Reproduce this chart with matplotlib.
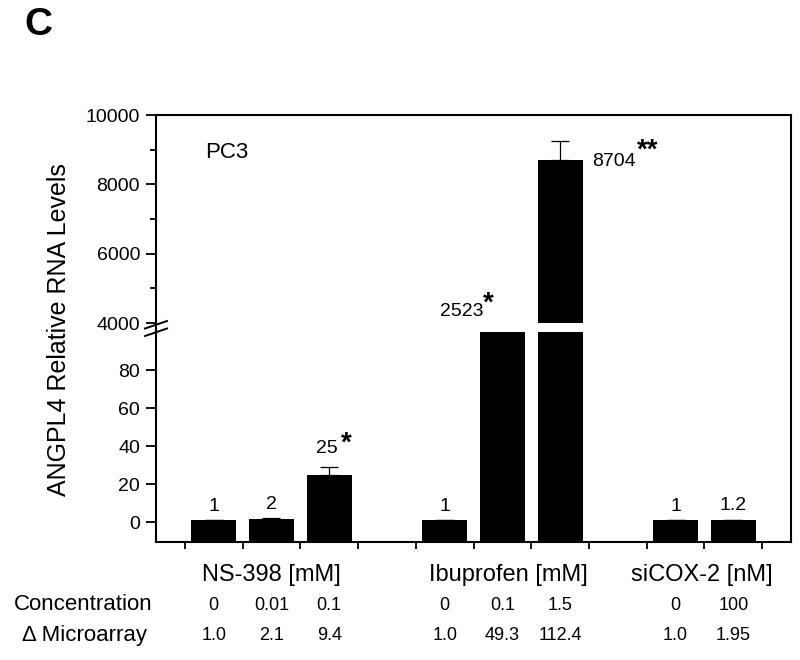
import matplotlib
matplotlib.use("Agg")
import matplotlib.pyplot as plt
from matplotlib.lines import Line2D
from matplotlib.transforms import blended_transform_factory

plt.rcParams['font.family'] = ['Liberation Sans', 'DejaVu Sans']

# data
groups = ["NS-398 [mM]", "Ibuprofen [mM]", "siCOX-2 [nM]"]
group_sizes = [3, 3, 2]
values = [1, 1.6, 24.7, 1, 2523, 8704, 1, 1.2]
errors = [0, 0.3, 4.4, 0, 0, 560, 0, 0]
value_labels = ["1", "2", "25", "1", "2523", "8704", "1", "1.2"]
stars = ["", "", "*", "", "*", "**", "", ""]
concentration = ["0", "0.01", "0.1", "0", "0.1", "1.5", "0", "100"]
microarray = ["1.0", "2.1", "9.4", "1.0", "49.3", "112.4", "1.0", "1.95"]

# bar positions: each group takes its slots, one empty slot between groups
pos = []
start = 0
for n in group_sizes:
    pos += [start + i + 0.5 for i in range(n)]
    start += n + 1

fig = plt.figure(figsize=(8, 6.6), dpi=100)

L, R = 156 / 800, 791 / 800
def fy(px):
    return 1 - px / 660

# frame
ax_bg = fig.add_axes([L, fy(542), R - L, fy(115) - fy(542)])
ax_bg.set_xticks([])
ax_bg.set_yticks([])
ax_bg.patch.set_visible(False)
for s in ax_bg.spines.values():
    s.set_linewidth(1.5)

ax_hi = fig.add_axes([L, fy(323), R - L, fy(115) - fy(323)])
ax_lo = fig.add_axes([L, fy(542), R - L, fy(332) - fy(542)])

lo_min, lo_top = -10.5, 100
for ax in (ax_hi, ax_lo):
    # bars stand on the floor of the lower axis
    heights = [v - lo_min for v in values]
    ax.bar(pos, heights, bottom=lo_min, width=0.78, color="black", zorder=2)
    ax.errorbar(pos, values, yerr=[[0] * len(errors), errors], fmt="none",
                ecolor="black", elinewidth=0.9, capsize=6.5, capthick=0.9, zorder=1)
    ax.set_xlim(-0.5, 10.5)
    ax.patch.set_visible(False)
    for s in ax.spines.values():
        s.set_visible(False)
    ax.tick_params(axis="y", direction="out", length=7, width=1.3, labelsize=14, pad=4.5)

ax_hi.set_ylim(4000, 10000)
ax_hi.set_yticks([4000, 6000, 8000, 10000])
ax_hi.set_yticks([5000, 7000, 9000], minor=True)
ax_hi.tick_params(axis="y", which="minor", length=4, width=1.3)
ax_hi.set_xticks([])

ax_lo.set_ylim(lo_min, lo_top)
ax_lo.set_yticks([0, 20, 40, 60, 80])
ax_lo.set_xticks(range(11))
ax_lo.set_xticklabels([])
ax_lo.tick_params(axis="x", direction="out", length=5, width=1.3)

# break marks on the left spine
for dy in (0, 7.5):
    fig.add_artist(Line2D([145 / 800, 167 / 800], [fy(328.5 + dy), fy(321 + dy)],
                          color="black", lw=1.4))

# value labels
for x, v, e, lab, st in zip(pos, values, errors, value_labels, stars):
    if v < lo_top:
        ax_lo.annotate(lab, (x, v + e), xytext=(-2 if st else 0, 18 if st else 14),
                       textcoords="offset pixels", ha="center", va="center", fontsize=14)
        if st:
            ax_lo.annotate(st, (x, v + e), xytext=(17, 23), textcoords="offset pixels",
                           ha="center", va="center", fontsize=20, fontweight="bold")
    elif v < 4000:
        ax_lo.annotate(lab, (x, lo_top), xytext=(-19, 20), textcoords="offset pixels",
                       ha="right", va="center", fontsize=14, annotation_clip=False)
        ax_lo.annotate(st, (x, lo_top), xytext=(-14, 28), textcoords="offset pixels",
                       ha="center", va="center", fontsize=20, fontweight="bold",
                       annotation_clip=False)
    else:
        ax_hi.annotate(lab, (x, v), xytext=(32, -2), textcoords="offset pixels",
                       ha="left", va="center", fontsize=14)
        ax_hi.annotate(st, (x, v), xytext=(88, 9), textcoords="offset pixels",
                       ha="center", va="center", fontsize=20, fontweight="bold")

ax_hi.text(205 / 800, fy(153), "PC3", transform=fig.transFigure, fontsize=16,
           ha="left", va="center")

fig.text(59 / 800, fy(330), "ANGPL4 Relative RNA Levels", rotation=90,
         ha="center", va="center", fontsize=18)

fig.text(38 / 800, fy(25), "C", fontsize=28, fontweight="bold", ha="center", va="center")

# table under the axis
trans = blended_transform_factory(ax_lo.transData, fig.transFigure)
group_x = [1.5, 5.6, 8.95]
for gx, g in zip(group_x, groups):
    ax_lo.text(gx, fy(575), g, transform=trans, ha="center", va="center", fontsize=17)
fig.text(83 / 800, fy(605), "Concentration", ha="center", va="center", fontsize=16)
fig.text(84 / 800, fy(635), "\u0394 Microarray", ha="center", va="center", fontsize=16)
for x, c, m in zip(pos, concentration, microarray):
    ax_lo.text(x, fy(605), c, transform=trans, ha="center", va="center", fontsize=13)
    ax_lo.text(x, fy(635), m, transform=trans, ha="center", va="center", fontsize=13)

fig.savefig("out.png", dpi=100)
